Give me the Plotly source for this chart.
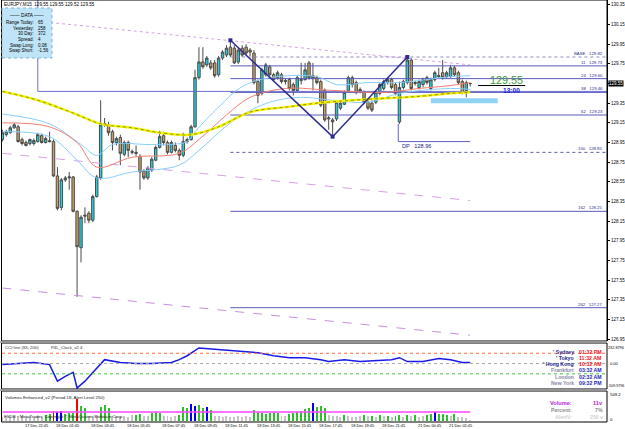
import plotly.graph_objects as go

W, H = 625, 429
def PX(x): return x / W
def PY(y): return 1 - y / H

# ---------------- data ----------------
bar_index = list(range(120))
open_ = [128.98,129.03,129.05,129.10,129.11,128.98,128.95,128.94,128.94,128.96,
         129.02,128.95,128.97,128.96,128.61,128.29,128.57,128.59,128.60,128.25,
         127.88,128.20,128.23,128.16,128.40,128.59,129.13,129.13,129.06,128.95,
         129.00,128.83,128.95,128.86,128.85,128.81,128.66,128.59,128.67,128.77,
         128.90,129.02,128.95,128.85,128.92,128.87,128.82,128.96,128.98,129.11,
         129.61,129.77,129.74,129.76,129.76,129.64,129.81,129.84,129.92,129.91,
         129.77,129.91,129.92,129.89,129.86,129.57,129.45,129.64,129.72,129.64,
         129.61,129.64,129.57,129.59,129.54,129.48,129.58,129.59,129.76,129.63,
         129.61,129.57,129.48,129.19,129.18,129.19,129.30,129.34,129.48,129.61,
         129.56,129.49,129.46,129.36,129.35,129.36,129.45,129.50,129.56,129.59,
         129.54,129.16,129.51,129.56,129.79,129.55,129.51,129.54,129.61,129.50,
         129.59,129.62,129.66,129.62,129.62,129.71,129.66,129.57,129.48,129.55]
high_ = [129.08,129.08,129.12,129.15,129.13,129.00,128.97,128.99,128.99,129.05,
         129.04,129.01,129.06,128.98,128.70,128.59,128.61,128.65,128.61,128.26,
         128.21,128.29,128.25,128.42,128.62,129.38,129.20,129.16,129.08,129.01,
         129.03,128.97,128.97,128.88,128.92,128.83,128.68,128.71,128.80,128.92,
         129.07,129.06,128.97,128.97,128.95,128.89,129.05,129.00,129.13,129.69,
         129.92,129.92,129.83,129.79,129.79,129.83,129.89,129.94,129.99,129.94,
         129.91,129.94,129.95,129.91,129.89,129.59,129.71,129.76,129.74,129.66,
         129.68,129.66,129.60,129.61,129.56,129.63,129.76,129.76,129.78,129.76,
         129.63,129.59,129.50,129.22,129.20,129.38,129.37,129.48,129.63,129.63,
         129.58,129.51,129.48,129.38,129.38,129.48,129.56,129.59,129.61,129.61,
         129.56,129.57,129.59,129.82,129.81,129.58,129.59,129.61,129.63,129.61,
         129.68,129.71,129.79,129.68,129.74,129.73,129.68,129.59,129.58,129.55]
low_ = [128.96,129.01,129.04,129.09,128.95,128.92,128.91,128.92,128.92,128.95,
        128.94,128.94,128.95,128.60,128.26,128.26,128.55,128.47,128.24,127.38,
        127.73,128.13,128.13,128.14,128.39,128.57,129.11,129.02,128.87,128.92,
        128.72,128.81,128.80,128.83,128.81,128.47,128.57,128.57,128.65,128.76,
        128.89,128.92,128.83,128.84,128.85,128.77,128.80,128.94,128.97,129.10,
        129.59,129.70,129.72,129.69,129.61,129.62,129.79,129.82,129.82,129.75,
        129.75,129.82,129.84,129.83,129.54,129.35,129.43,129.62,129.62,129.57,
        129.59,129.55,129.54,129.48,129.43,129.47,129.54,129.58,129.59,129.48,
        129.54,129.31,129.16,129.08,129.01,129.17,129.28,129.33,129.46,129.51,
        129.44,129.45,129.34,129.28,129.26,129.34,129.43,129.48,129.54,129.49,
        129.43,129.14,129.49,129.54,129.48,129.53,129.49,129.51,129.54,129.48,
        129.57,129.60,129.59,129.60,129.61,129.62,129.54,129.44,129.41,129.52]
close_ = [129.05,129.06,129.10,129.13,128.96,128.94,128.92,128.98,128.97,129.03,
          128.95,128.99,128.96,128.61,128.28,128.57,128.59,128.60,128.25,127.89,
          128.19,128.21,128.16,128.40,128.60,129.13,129.14,129.05,128.95,128.99,
          128.84,128.95,128.87,128.85,128.84,128.65,128.59,128.69,128.78,128.90,
          129.01,128.95,128.85,128.95,128.87,128.82,128.96,128.98,129.11,129.61,
          129.77,129.72,129.81,129.71,129.63,129.81,129.87,129.91,129.84,129.76,
          129.89,129.84,129.86,129.87,129.56,129.43,129.69,129.74,129.64,129.59,
          129.66,129.57,129.58,129.50,129.48,129.61,129.59,129.69,129.61,129.60,
          129.56,129.33,129.18,129.20,129.16,129.36,129.35,129.46,129.61,129.54,
          129.46,129.47,129.36,129.30,129.28,129.46,129.54,129.57,129.59,129.51,
          129.45,129.51,129.57,129.79,129.50,129.56,129.57,129.59,129.56,129.59,
          129.66,129.63,129.61,129.66,129.71,129.64,129.56,129.46,129.56,129.55]

# moving averages (read at anchor bars)
ma_yellow_x = [0, 9, 18, 25, 33, 40, 48, 55, 63, 72, 80, 89, 97, 106, 114, 119]
ma_yellow = [129.47, 129.38, 129.25, 129.14, 129.10, 129.05, 129.03, 129.11, 129.26,
             129.31, 129.35, 129.38, 129.40, 129.42, 129.45, 129.46]
ma_red_x = [0, 12, 19, 24, 33, 45, 50, 57, 63, 72, 84, 97, 106, 114, 119]
ma_red = [129.15, 129.11, 128.95, 128.70, 128.80, 128.84, 128.98, 129.23, 129.41,
          129.50, 129.48, 129.46, 129.50, 129.53, 129.56]
band_up_x = [0, 12, 20, 24, 28, 38, 47, 49, 55, 61, 68, 80, 85, 93, 101, 114, 119]
band_up = [129.24, 129.14, 128.93, 128.82, 128.93, 128.93, 128.96, 129.06, 129.31,
           129.52, 129.61, 129.62, 129.54, 129.56, 129.56, 129.62, 129.63]
band_lo_x = [0, 12, 19, 24, 33, 45, 50, 59, 68, 76, 84, 93, 101, 114, 119]
band_lo = [129.06, 129.01, 128.77, 128.59, 128.65, 128.72, 128.87, 129.18, 129.36,
           129.41, 129.38, 129.36, 129.45, 129.50, 129.49]

# regression channel
chan_x = [0, 119]
chan_upper = [130.22, 129.74]
chan_mid = [128.84, 128.36]
chan_lower = [127.47, 126.99]

# fibonacci
fib_start_bar = 58
fib_names = ["BASE", "11", "24", "38", "62", "100", "162", "262"]
fib_levels = [129.82, 129.73, 129.60, 129.46, 129.23, 128.85, 128.25, 127.27]

# zigzag points (bars)
zz_bars = [58, 84, 103]

# horizontal line
hline_bar = 9
hline_price = 129.47

# drop point
dp_bar = 101
dp_end_bar = 119
dp_level = 128.96

# target zone
zone_bars = [109, 126]
zone_prices = [129.35, 129.40]

price_ticks = [126.95, 127.15, 127.35, 127.55, 127.75, 127.95, 128.15, 128.35, 128.55,
               128.75, 128.95, 129.15, 129.35, 129.55, 129.75, 129.95, 130.15, 130.35]

# CCI
cci_bars = [0,4,8,12,14,16,18,19,21,23,26,30,34,38,43,45,47,50,53,57,
            61,65,69,73,77,81,83,87,91,95,99,101,103,107,111,114,117,119]
cci_vals = [-10,0,10,-10,-171,-124,-86,-238,-171,-86,38,10,0,0,10,38,76,152,143,133,
            114,105,76,57,57,38,19,38,19,29,38,57,19,19,48,38,10,10]
cci_levels = [100, 0, -100]

# volume
volume = [68,85,68,85,68,85,68,85,68,85,68,
          102,119,170,153,170,119,136,136,374,255,221,
          85,85,102,238,272,221,85,85,68,85,68,102,102,119,85,85,136,153,136,
          85,85,68,85,102,238,221,289,255,272,221,238,187,
          85,85,68,85,68,68,85,68,85,68,
          187,153,136,119,136,153,136,85,85,119,136,153,170,204,221,306,238,255,221,
          102,85,85,68,102,85,68,68,85,102,85,85,68,102,85,85,68,85,102,68,102,85,102,
          68,85,102,119,153,119,119,102,85,119,68,68,51,11]
vol_kind = list("nnnnnnnnnnn" "ggrbbgggrgg" "nnn" "ggg" "nnnnnn" "gg" "nn" "ggg" "nnnn"
                "gggbbggbg" "nnnnnnnnnn" "ggggggg" "nn" "gggggg" "b" "ggg" "nnnn" "g"
                "nnnn" "g" "n" "g" "n" "g" "n" "g" "n" "gg" "n" "g" "n" "g" "nn" "gg" "b"
                "ggg" "n" "g" "nnnn")
vol_avg = 153

xlabel_bars = [0, 5, 13, 22, 31, 40, 48, 56, 64, 72, 80, 88, 96, 105, 113]
xlabel_text = ["17 Dec 2009", "17 Dec 22:45", "18 Dec 01:45", "18 Dec 03:45", "18 Dec 05:45",
               "18 Dec 07:45", "18 Dec 09:45", "18 Dec 11:45", "18 Dec 13:45", "18 Dec 15:45",
               "18 Dec 17:45", "18 Dec 19:45", "18 Dec 21:45", "21 Dec 00:45", "21 Dec 02:45"]

for arr in (open_, high_, low_, close_, volume, vol_kind):
    if len(arr) != len(bar_index):
        raise ValueError("length mismatch %d" % len(arr))

# ---------------- figure ----------------
FONT = "Liberation Sans"
XR = [-0.1, 153.8]
XMAX = XR[1]
fig = go.Figure()

def line(x, y, color, width=1, dash="solid", shape="linear", xa="x", ya="y", mode="lines", marker=None):
    fig.add_trace(go.Scatter(x=x, y=y, mode=mode, line=dict(color=color, width=width, dash=dash, shape=shape),
                             marker=marker, xaxis=xa, yaxis=ya, hoverinfo="skip", showlegend=False))

# channel lines
line(chan_x, chan_upper, "#d9a0e6", 1, "dot")
line(chan_x, chan_mid, "#d9a0e6", 1, "dash")
line(chan_x, chan_lower, "#c88ee0", 1, "dash")

# fibonacci lines
fib_color = "#5a5ab8"
for n, lv in zip(fib_names, fib_levels):
    dash = "dot" if n in ("BASE", "100") else "solid"
    col = "#8a8ac8" if n == "BASE" else fib_color
    line([fib_start_bar, XMAX], [lv, lv], col, 1, dash)

# horizontal/vertical line
line([hline_bar, hline_bar, XMAX], [130.40, hline_price, hline_price], "#6c6cd4", 1)

# candles
fig.add_trace(go.Candlestick(x=bar_index, open=open_, high=high_, low=low_, close=close_,
                             increasing=dict(line=dict(color="#4a4a4a", width=1), fillcolor="#1fd3e0"),
                             decreasing=dict(line=dict(color="#4a4a4a", width=1), fillcolor="#c8a066"),
                             whiskerwidth=0, hoverinfo="skip", showlegend=False, xaxis="x", yaxis="y"))

# MAs
line(band_up_x, band_up, "#87cefa", 1, shape="spline")
line(band_lo_x, band_lo, "#87cefa", 1, shape="spline")
line(ma_red_x, ma_red, "#f08070", 1, shape="spline")
line(ma_yellow_x, ma_yellow, "#f2f200", 2.4, shape="spline")
line(ma_yellow_x, ma_yellow, "#6a6a10", 0.7, "dot", shape="spline")

# zigzag
zz_prices = [high_[zz_bars[0]], low_[zz_bars[1]], high_[zz_bars[2]]]
line(zz_bars, zz_prices, "#2c2c8c", 1.5, mode="lines+markers",
     marker=dict(symbol="square", size=4, color="#2c2c8c"))

# DP line
line([dp_bar - 0.3, dp_bar - 0.3, dp_end_bar], [low_[dp_bar], dp_level, dp_level], "#6060c0", 1)

# CCI
line(cci_bars, cci_vals, "#1a1ae8", 1.5, xa="x2", ya="y2")

# Volume
vcol = {"n": "#c4c4c4", "g": "#2cc02c", "b": "#0000ff", "r": "#ff0000"}
fig.add_trace(go.Bar(x=bar_index, y=volume, marker=dict(color=[vcol[k] for k in vol_kind], line=dict(width=0)),
                     width=0.5, xaxis="x3", yaxis="y3", hoverinfo="skip", showlegend=False))
line([0, 119], [vol_avg, vol_avg], "#ff44ff", 1.6, xa="x3", ya="y3")

shapes = []
ann = []

# zone rectangle
shapes.append(dict(type="rect", xref="x", yref="y", x0=zone_bars[0], x1=zone_bars[1],
                   y0=zone_prices[0], y1=zone_prices[1], fillcolor="#8fd4f7", line=dict(width=0), layer="above"))
# current price marker line
last = close_[-1]
shapes.append(dict(type="line", xref="x", yref="y", x0=121, x1=133, y0=last - 0.02, y1=last - 0.02,
                   line=dict(color="#000000", width=1)))

# CCI level lines
for lv, c in zip(cci_levels, ["#ff6a3c", "#a8a8a8", "#3cc83c"]):
    shapes.append(dict(type="line", xref="paper", yref="y2", x0=PX(2), x1=PX(607), y0=lv, y1=lv,
                       line=dict(color=c, width=1, dash="dot")))

# panel frames
for (t, b) in [(0, 341), (343, 389), (391, 422)]:
    shapes.append(dict(type="rect", xref="paper", yref="paper", x0=PX(1.5), x1=PX(607), y0=PY(b), y1=PY(t),
                       line=dict(color="#000000", width=1), fillcolor="rgba(0,0,0,0)"))
for yy in (342, 390):
    shapes.append(dict(type="line", xref="paper", yref="paper", x0=PX(0), x1=PX(607), y0=PY(yy), y1=PY(yy),
                       line=dict(color="#9a9a9a", width=1.5)))

# DATA box
shapes.append(dict(type="rect", xref="paper", yref="paper", x0=PX(2), x1=PX(52), y0=PY(58), y1=PY(8),
                   fillcolor="#bfe3f7", line=dict(color="#7fb2d8", width=1, dash="dot"), layer="above"))

def text(x, y, s, size=4.5, color="#000000", xanchor="left", yanchor="middle", xref="paper", yref="paper",
         bold=False, bg=None):
    d = dict(x=x, y=y, xref=xref, yref=yref, text=("<b>%s</b>" % s) if bold else s, showarrow=False,
             xanchor=xanchor, yanchor=yanchor, font=dict(size=size, color=color, family=FONT), borderpad=0)
    if bg:
        d["bgcolor"] = bg
    ann.append(d)

# title
text(PX(3), PY(4), "EURJPY,M15  %.2f %.2f %.2f %.2f" % (open_[-1], high_[-1], low_[-1], close_[-1]), 4.6)

# data box text
text(PX(27), PY(15.5), "—— DATA ——", 4.8, xanchor="center")
data_rows = [("Range Today:", "65"), ("Yesterday:", "258"), ("30 Day:", "372"), ("Spread:", "4"),
             ("Swap Long:", "0.08"), ("Swap Short:", "-1.56")]
for i, (k, v) in enumerate(data_rows):
    yy = 22.3 + i * 5.7
    text(PX(34.5), PY(yy), k, 4.5, xanchor="right")
    text(PX(37), PY(yy), v, 4.5)

# fib labels
for n, lv in zip(fib_names, fib_levels):
    text(PX(604), lv, "%s   %.2f" % (n, lv), 4.3, "#2a2a90", xanchor="right", yanchor="bottom", yref="y")

# DP text
text(dp_bar + 0.3, dp_level, "DP   %.2f" % dp_level, 5.6, "#22228a", yanchor="top", xref="x", yref="y")

# current price big text
text(128.3, last + 0.035, "%.2f" % last, 10.8, "#3a9a3a", xanchor="center", xref="x", yref="y")
text(129.6, last - 0.075, "13:00", 6.6, "#2626d6", xanchor="center", xref="x", yref="y", bold=True)

# price box on axis
text(PX(608), last, "%.2f" % last, 4.5, "#ffffff", xref="paper", yref="y", bg="#000000")

# CCI labels
text(PX(4), PY(347.5), "CCI line (83, 200)", 4.3, "#303030")
text(PX(50), PY(347.5), "P4L_Clock_v2.4", 4.3, "#303030")
text(PX(624.5), PY(348), "232.8796", 3.8, xanchor="right")
text(PX(609), 0, "0.00", 4.0, yref="y2")
text(PX(624.5), PY(386), "-509.9796", 3.6, xanchor="right")

clock = [("' Sydney", "01:32 PM", "#1c1c8c", "#e8141e"),
         ("' Tokyo", "11:32 AM", "#1c1c8c", "#e8141e"),
         ("' Hong Kong", "10:32 AM", "#1c1c8c", "#e8141e"),
         ("Frankfurt", "03:32 AM", "#8a8aa6", "#1e1eb8"),
         ("London", "02:32 AM", "#8a8aa6", "#1e1eb8"),
         ("New York", "09:32 PM", "#8a8aa6", "#1e1eb8")]
for i, (nm, tm, c1, c2) in enumerate(clock):
    yy = 351.5 + i * 6.3
    text(PX(575), PY(yy), nm, 5.2, c1, xanchor="right", bold=True)
    text(PX(578), PY(yy), tm, 5.2, c2, bold=True)

# Volume labels
text(PX(4), PY(397), "Volumes Enhanced_v2 (Period 18, Alert Level 250)", 4.4, "#202020")
text(PX(3), PY(416.5), "FSDB • MetaTrader, Copyright © MetaQuotes Software Corp.", 4.4, "#202020")
text(PX(609), PY(394), "509.2", 4.3)
text(PX(609), PY(419), "0", 4.3)
text(PX(573), PY(402.5), "Volume:", 5.6, "#b41ed2", xanchor="right", bold=True)
text(PX(604), PY(402.5), "%dv" % volume[-1], 5.6, "#b41ed2", xanchor="right", bold=True)
text(PX(573), PY(410), "Percent:", 5.2, "#8c8c8c", xanchor="right", bold=True)
text(PX(604), PY(410), "7%", 5.2, "#8c8c8c", xanchor="right", bold=True)
text(PX(573), PY(417), "AlertV:", 5.2, "#cfcfcf", xanchor="right", bold=True)
text(PX(604), PY(417), "250 v", 5.2, "#cfcfcf", xanchor="right", bold=True)

# x labels
for b, s in zip(xlabel_bars, xlabel_text):
    text(b + (0.4 if b else -0.3), PY(425.5), s, 3.9, xref="x")

xcommon = dict(range=XR, domain=[PX(2), PX(607)], showgrid=False, zeroline=False, showticklabels=False,
               showline=False, ticks="", fixedrange=True)
fig.update_layout(
    width=W, height=H, margin=dict(l=0, r=0, t=0, b=0), autosize=False,
    paper_bgcolor="#ffffff", plot_bgcolor="#ffffff", showlegend=False, bargap=0, boxgap=0.12,
    xaxis=dict(**xcommon, anchor="y", rangeslider=dict(visible=False)),
    xaxis2=dict(**xcommon, anchor="y2", matches="x"),
    xaxis3=dict(**xcommon, anchor="y3", matches="x"),
    yaxis=dict(domain=[PY(341), PY(0)], range=[126.931, 130.40], side="right", anchor="x",
               tickvals=price_ticks, ticktext=["" if abs(v - last) < 0.01 else "%.2f" % v for v in price_ticks],
               ticks="outside", ticklen=2, tickcolor="#000", tickfont=dict(size=4.5, family=FONT, color="#000"),
               showgrid=False, zeroline=False, showline=True, linecolor="#000", linewidth=1, fixedrange=True),
    yaxis2=dict(domain=[PY(389), PY(343)], range=[-247.6, 200], side="right", anchor="x2",
                showticklabels=False, ticks="", showgrid=False, zeroline=False, showline=False, fixedrange=True),
    yaxis3=dict(domain=[PY(422), PY(391)], range=[-17, 510], side="right", anchor="x3",
                showticklabels=False, ticks="", showgrid=False, zeroline=False, showline=False, fixedrange=True),
    shapes=shapes, annotations=ann,
)

fig.write_html("out.html", config=dict(displayModeBar=False, staticPlot=True))
